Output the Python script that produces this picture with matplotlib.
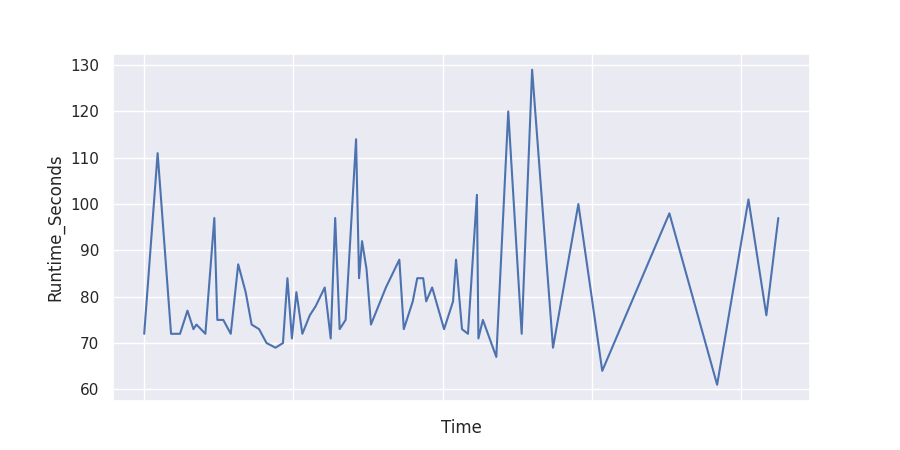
import matplotlib
matplotlib.use("Agg")
import matplotlib.pyplot as plt
import seaborn as sns

sns.set_theme(style="darkgrid")

# x positions in tick units (tick spacing = 1), labels on x axis are hidden
time_pos = [0.00, 0.09, 0.18, 0.24, 0.29, 0.33, 0.35, 0.41, 0.47, 0.49,
            0.53, 0.58, 0.63, 0.68, 0.72, 0.77, 0.82, 0.88, 0.93, 0.96,
            0.99, 1.02, 1.06, 1.11, 1.15, 1.21, 1.25, 1.28, 1.31, 1.35,
            1.42, 1.44, 1.46, 1.49, 1.52, 1.62, 1.68, 1.71, 1.74, 1.80,
            1.83, 1.87, 1.89, 1.93, 2.01, 2.07, 2.09, 2.13, 2.17, 2.23,
            2.24, 2.27, 2.36, 2.44, 2.53, 2.60, 2.74, 2.91, 3.07, 3.52,
            3.84, 4.05, 4.17, 4.25]
runtime_seconds = [72, 111, 72, 72, 77, 73, 74, 72, 97, 75,
                   75, 72, 87, 81, 74, 73, 70, 69, 70, 84,
                   71, 81, 72, 76, 78, 82, 71, 97, 73, 75,
                   114, 84, 92, 86, 74, 82, 86, 88, 73, 79,
                   84, 84, 79, 82, 73, 79, 88, 73, 72, 102,
                   71, 75, 67, 120, 72, 129, 69, 100, 64, 98,
                   61, 101, 76, 97]
x_ticks = [0, 1, 2, 3, 4]

fig, ax = plt.subplots(figsize=(9, 4.5), dpi=100)
ax.plot(time_pos, runtime_seconds, color="#4c72b0", linewidth=1.5)
ax.set_xticks(x_ticks)
ax.set_xticklabels([])
ax.set_xlabel("Time")
ax.set_ylabel("Runtime_Seconds")
fig.savefig("out.png", dpi=100)
